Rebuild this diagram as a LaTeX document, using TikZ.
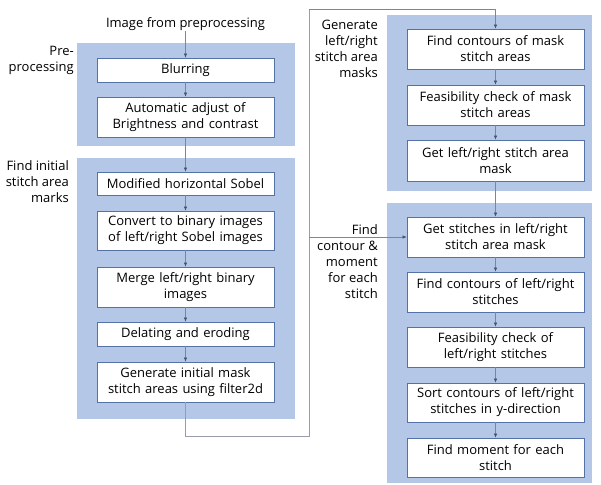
\documentclass[tikz,border=0pt]{standalone}
\usepackage{fontspec}
\setmainfont{Open Sans}
\usetikzlibrary{arrows.meta,fit,positioning}
\definecolor{grpblue}{HTML}{B4C7E7}
\definecolor{boxedge}{HTML}{5572A8}
\definecolor{lncol}{HTML}{7F8593}
\definecolor{tipcol}{HTML}{44546A}
\tikzset{
  grp/.style={fill=grpblue, draw=none, inner sep=0pt},
  stepbox/.style={draw=boxedge, line width=0.7pt, fill=white, minimum width=177pt, text width=174pt, align=center, inner sep=0pt, font=\fontsize{13}{16}\selectfont},
  lbl/.style={align=right, inner sep=0pt, font=\fontsize{13}{16}\selectfont},
  arr/.style={draw=lncol, line width=0.6pt, -{Latex[length=4pt,width=3.5pt,color=tipcol]}},
  ln/.style={draw=lncol!80, line width=0.6pt}
}
\begin{document}
\begin{tikzpicture}[x=1pt,y=-1pt]
\useasboundingbox (0,0) rectangle (601,484);
% groups
\node[grp, fit={(77,43) (295,146)}] (g1) {};
\node[grp, fit={(77,158) (295,419)}] (g2) {};
\node[grp, fit={(387,15) (592,191)}] (g3) {};
\node[grp, fit={(387,203) (592,483)}] (g4) {};
% title
\node[lbl, align=center] (title) at (185.5,24) {Image from preprocessing};
% left boxes
\node[stepbox, minimum height=24pt] (blur) at (185.5,70) {Blurring};
\node[stepbox, minimum height=40pt] (adj) at (185.5,117) {Automatic adjust of\\Brightness and contrast};
\node[stepbox, minimum height=23pt] (sob) at (185.5,183.5) {Modified horizontal Sobel};
\node[stepbox, minimum height=39pt] (conv) at (185.5,230.5) {Convert to binary images\\of left/right Sobel images};
\node[stepbox, minimum height=40pt] (merge) at (185.5,287) {Merge left/right binary\\images};
\node[stepbox, minimum height=24pt] (dil) at (185.5,334) {Delating and eroding};
\node[stepbox, minimum height=40pt] (gen) at (185.5,382) {Generate initial mask\\stitch areas using filter2d};
% right boxes
\node[stepbox, minimum height=40pt] (fc) at (495.5,49) {Find contours of mask\\stitch areas};
\node[stepbox, minimum height=40pt] (fm) at (495.5,105) {Feasibility check of mask\\stitch areas};
\node[stepbox, minimum height=41pt] (gm) at (495.5,160.5) {Get left/right stitch area\\mask};
\node[stepbox, minimum height=40pt] (gs) at (495.5,237) {Get stitches in left/right\\stitch area mask};
\node[stepbox, minimum height=40pt] (fcl) at (495.5,292) {Find contours of left/right\\stitches};
\node[stepbox, minimum height=40pt] (fl) at (495.5,347) {Feasibility check of\\left/right stitches};
\node[stepbox, minimum height=39pt] (sc) at (495.5,402.5) {Sort contours of left/right\\stitches in y-direction};
\node[stepbox, minimum height=39pt] (fmo) at (495.5,457.5) {Find moment for each\\stitch};
% labels
\node[lbl, anchor=east] (l1) at (74,60) {Pre-\\processing};
\node[lbl, anchor=east] (l2) at (69,181.5) {Find initial\\stitch area\\marks};
\node[lbl, anchor=east] (l3) at (378,48.5) {Generate\\left/right\\stitch area\\masks};
\node[lbl, anchor=east] (l4) at (378,261.5) {Find\\contour \&\\moment\\for each\\stitch};
% connectors
\draw[arr] (title) -- (blur);
\draw[arr] (blur) -- (adj);
\draw[arr] (adj) -- (sob);
\draw[arr] (sob) -- (conv);
\draw[arr] (conv) -- (merge);
\draw[arr] (merge) -- (dil);
\draw[arr] (dil) -- (gen);
\coordinate (c1) at (309,436);
\coordinate (c2) at (309,9);
\coordinate (c3) at (309,237);
\draw[ln] (gen.south) |- (c1) -- (c2);
\draw[arr] (c2) -| (fc.north);
\draw[arr] (c3) -- (gs.west);
\draw[arr] (fc) -- (fm);
\draw[arr] (fm) -- (gm);
\draw[arr] (gm) -- (gs);
\draw[arr] (gs) -- (fcl);
\draw[arr] (fcl) -- (fl);
\draw[arr] (fl) -- (sc);
\draw[arr] (sc) -- (fmo);
\end{tikzpicture}
\end{document}
